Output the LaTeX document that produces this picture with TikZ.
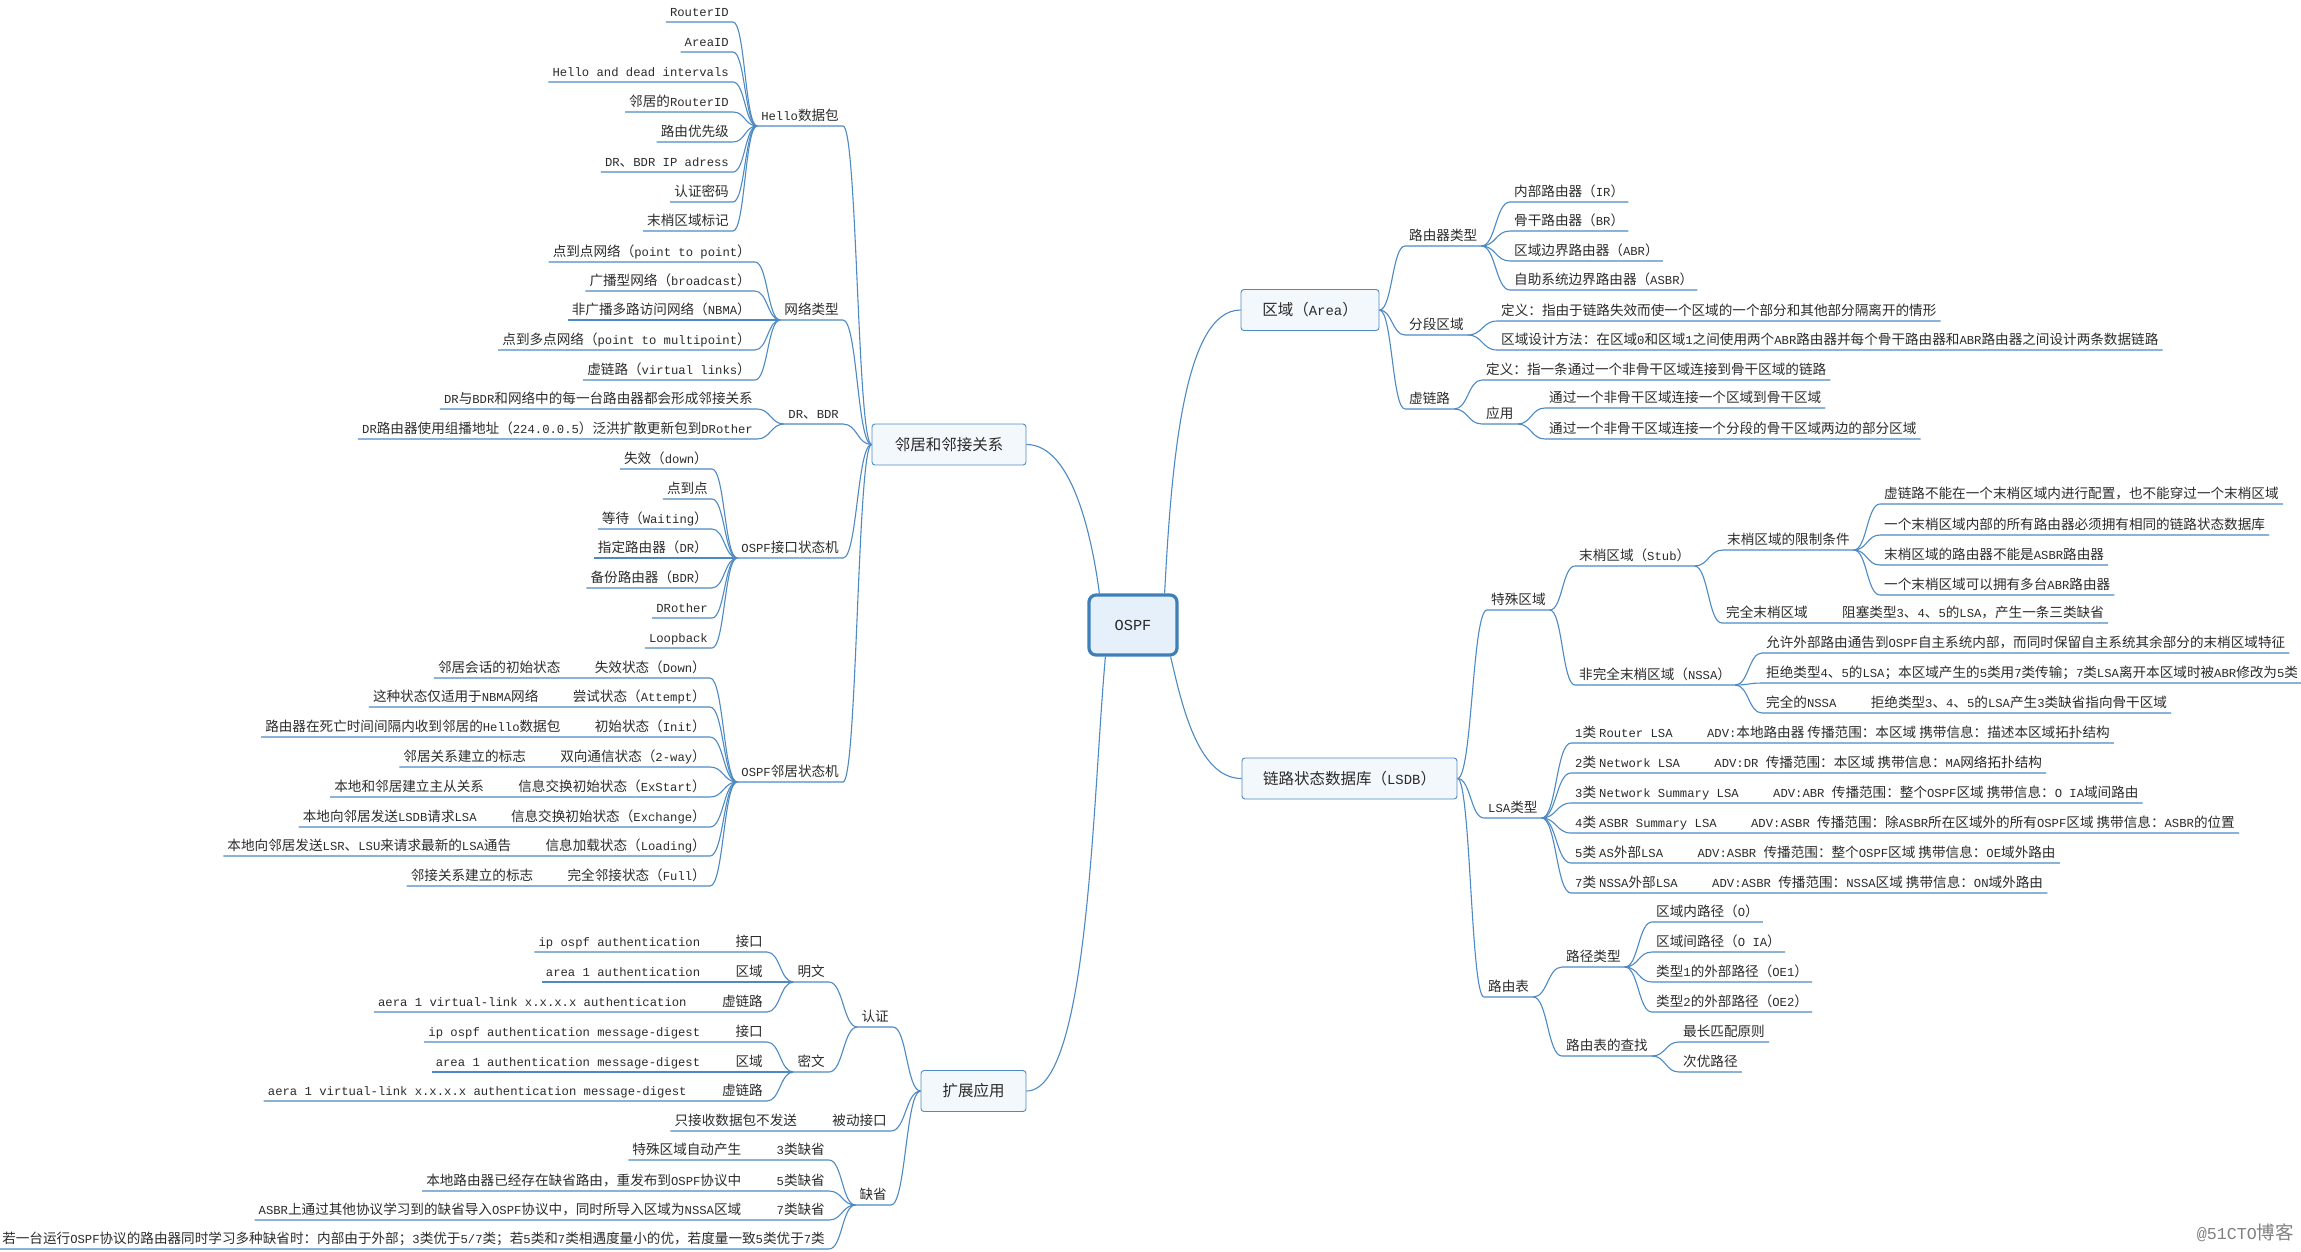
\documentclass[tikz,border=0pt]{standalone}
\usepackage{fontspec}
\usetikzlibrary{calc}

\newfontfamily\cjkfam{Noto Sans CJK SC}
\newfontfamily\latfam{Liberation Mono}[Scale=0.9]

% CJK runs in the CJK font, the rest in the mono font
\newcount\cjkcode
\chardef\cjkcls=7
\cjkcode="3000
\loop\ifnum\cjkcode<"3040 \XeTeXcharclass\cjkcode=\cjkcls \advance\cjkcode by 1 \repeat
\cjkcode="4E00
\loop\ifnum\cjkcode<"A000 \XeTeXcharclass\cjkcode=\cjkcls \advance\cjkcode by 1 \repeat
\cjkcode="FF00
\loop\ifnum\cjkcode<"FFF0 \XeTeXcharclass\cjkcode=\cjkcls \advance\cjkcode by 1 \repeat
\XeTeXinterchartoks 0 \cjkcls = {\cjkfam}
\XeTeXinterchartoks 4095 \cjkcls = {\cjkfam}
\XeTeXinterchartoks \cjkcls 0 = {\latfam}
\XeTeXinterchartoks 4095 0 = {\latfam}
\XeTeXinterchartokenstate=1

\definecolor{linkblue}{HTML}{4D8AC3}
\definecolor{rootblue}{HTML}{3F7FB7}
\definecolor{topicfill}{HTML}{F3F8FD}
\definecolor{rootfill}{HTML}{E6F0FA}
\definecolor{inkgray}{HTML}{2B2B2B}

\begin{document}
\begin{tikzpicture}
        [x=1pt, y=-1pt,
         every node/.style={text=inkgray, font=\fontsize{13.6}{16}\selectfont},
         lt/.style={anchor=south east, inner xsep=4pt, inner ysep=2.5pt, text height=11pt, text depth=3pt},
         rt/.style={lt, anchor=south west},
         topic/.style={draw=linkblue, fill=topicfill, rounded corners=3pt, line width=0.9pt, minimum height=41pt, font=\fontsize{15.5}{18}\selectfont},
         root/.style={draw=rootblue, fill=rootfill, rounded corners=7pt, line width=3.2pt, minimum width=88pt, minimum height=60pt, font=\fontsize{17}{20}\selectfont},
         stamp/.style={inner sep=0pt, text=gray, font=\fontsize{18.5}{21}\selectfont},
         link/.style={draw=linkblue, line width=1.1pt, to path={let \p1=(\tikztostart), \p2=(\tikztotarget) in .. controls ({(\x1+\x2)/2},\y1) and ({(\x1+\x2)/2},\y2) .. (\tikztotarget)}},
         trunk/.style={draw=linkblue, line width=1.1pt}]

        \useasboundingbox (0,0) rectangle (2301,1251);

        % centre and main topics
        \node[root] (ospf) at (1133, 625) {OSPF};
        \node[topic, minimum width=154pt] (nbr) at (949, 444.5) {邻居和邻接关系};
        \node[topic, minimum width=105pt] (ext) at (973.5, 1091) {扩展应用};
        \node[topic, minimum width=138pt] (area) at (1310, 310) {区域（Area）};
        \node[topic, minimum width=215pt] (lsdb) at (1349.5, 778.5) {链路状态数据库（LSDB）};

        \draw[trunk] ([xshift=12pt]ospf.north west) .. controls +(-8pt,60pt) and +(45pt,0pt) .. (nbr.east);
        \draw[trunk] ([xshift=-14pt]ospf.north east) .. controls +(7pt,135pt) and +(-56pt,0pt) .. (area.west);
        \draw[trunk] ([xshift=18pt]ospf.south west) .. controls +(-13pt,-145pt) and +(62pt,0pt) .. (ext.east);
        \draw[trunk] ([xshift=-8pt]ospf.south east) .. controls +(10pt,-42pt) and +(-45pt,0pt) .. (lsdb.west);

        % Hello
        \node[lt] (hello) at (843, 126) {Hello数据包};
        \node[lt] (h1) at (733, 22) {RouterID};
        \node[lt] (h2) at (733, 52) {AreaID};
        \node[lt] (h3) at (733, 82) {Hello and dead intervals};
        \node[lt] (h4) at (733, 112) {邻居的RouterID};
        \node[lt] (h5) at (733, 142) {路由优先级};
        \node[lt] (h6) at (733, 172) {DR、BDR IP adress};
        \node[lt] (h7) at (733, 202) {认证密码};
        \node[lt] (h8) at (733, 231) {末梢区域标记};

        % network types
        \node[lt] (net) at (843, 320) {网络类型};
        \node[lt] (n1) at (755, 262) {点到点网络（point to point）};
        \node[lt] (n2) at (755, 291) {广播型网络（broadcast）};
        \node[lt] (n3) at (755, 320) {非广播多路访问网络（NBMA）};
        \node[lt] (n4) at (755, 350) {点到多点网络（point to multipoint）};
        \node[lt] (n5) at (755, 380) {虚链路（virtual links）};

        \node[lt] (dr) at (843, 424) {DR、BDR};
        \node[lt] (d1) at (757, 409) {DR与BDR和网络中的每一台路由器都会形成邻接关系};
        \node[lt] (d2) at (757, 439) {DR路由器使用组播地址（224.0.0.5）泛洪扩散更新包到DRother};

        % interface states
        \node[lt] (ifsm) at (843, 558) {OSPF接口状态机};
        \node[lt] (i1) at (712, 469) {失效（down）};
        \node[lt] (i2) at (712, 499) {点到点};
        \node[lt] (i3) at (712, 529) {等待（Waiting）};
        \node[lt] (i4) at (712, 558) {指定路由器（DR）};
        \node[lt] (i5) at (712, 588) {备份路由器（BDR）};
        \node[lt] (i6) at (712, 618) {DRother};
        \node[lt] (i7) at (712, 648) {Loopback};

        % neighbour states
        \node[lt] (nsm) at (843, 782) {OSPF邻居状态机};
        \node[lt] (s1) at (710, 678) {失效状态（Down）};
        \node[lt] (s2) at (710, 707) {尝试状态（Attempt）};
        \node[lt] (s3) at (710, 737) {初始状态（Init）};
        \node[lt] (s4) at (710, 767) {双向通信状态（2-way）};
        \node[lt] (s5) at (710, 797) {信息交换初始状态（ExStart）};
        \node[lt] (s6) at (710, 827) {信息交换初始状态（Exchange）};
        \node[lt] (s7) at (710, 856) {信息加载状态（Loading）};
        \node[lt] (s8) at (710, 886) {完全邻接状态（Full）};
        \node[lt] (s1x) at ([xshift=-26pt]s1.south west) {邻居会话的初始状态};
        \node[lt] (s2x) at ([xshift=-26pt]s2.south west) {这种状态仅适用于NBMA网络};
        \node[lt] (s3x) at ([xshift=-26pt]s3.south west) {路由器在死亡时间间隔内收到邻居的Hello数据包};
        \node[lt] (s4x) at ([xshift=-26pt]s4.south west) {邻居关系建立的标志};
        \node[lt] (s5x) at ([xshift=-26pt]s5.south west) {本地和邻居建立主从关系};
        \node[lt] (s6x) at ([xshift=-26pt]s6.south west) {本地向邻居发送LSDB请求LSA};
        \node[lt] (s7x) at ([xshift=-26pt]s7.south west) {本地向邻居发送LSR、LSU来请求最新的LSA通告};
        \node[lt] (s8x) at ([xshift=-26pt]s8.south west) {邻接关系建立的标志};

        % extensions
        \node[lt] (auth) at (893, 1027) {认证};
        \node[lt] (mw) at (829, 982) {明文};
        \node[lt] (mw1) at (767, 952) {接口};
        \node[lt] (mw2) at (767, 982) {区域};
        \node[lt] (mw3) at (767, 1012) {虚链路};
        \node[lt] (mw1x) at ([xshift=-27pt]mw1.south west) {ip ospf authentication};
        \node[lt] (mw2x) at ([xshift=-27pt]mw2.south west) {area 1 authentication};
        \node[lt] (mw3x) at ([xshift=-27pt]mw3.south west) {aera 1 virtual-link x.x.x.x authentication};
        \node[lt] (cw) at (829, 1072) {密文};
        \node[lt] (cw1) at (767, 1042) {接口};
        \node[lt] (cw2) at (767, 1072) {区域};
        \node[lt] (cw3) at (767, 1101) {虚链路};
        \node[lt] (cw1x) at ([xshift=-27pt]cw1.south west) {ip ospf authentication message-digest};
        \node[lt] (cw2x) at ([xshift=-27pt]cw2.south west) {area 1 authentication message-digest};
        \node[lt] (cw3x) at ([xshift=-27pt]cw3.south west) {aera 1 virtual-link x.x.x.x authentication message-digest};
        \node[lt] (pas) at (891, 1131) {被动接口};
        \node[lt] (pasx) at ([xshift=-27pt]pas.south west) {只接收数据包不发送};
        \node[lt] (dft) at (891, 1205) {缺省};
        \node[lt] (f1) at (829, 1160) {3类缺省};
        \node[lt] (f2) at (829, 1191) {5类缺省};
        \node[lt] (f3) at (829, 1220) {7类缺省};
        \node[lt] (f1x) at ([xshift=-27pt]f1.south west) {特殊区域自动产生};
        \node[lt] (f2x) at ([xshift=-27pt]f2.south west) {本地路由器已经存在缺省路由，重发布到OSPF协议中};
        \node[lt] (f3x) at ([xshift=-27pt]f3.south west) {ASBR上通过其他协议学习到的缺省导入OSPF协议中，同时所导入区域为NSSA区域};
        \node[lt] (f4) at (829, 1249) {若一台运行OSPF协议的路由器同时学习多种缺省时：内部由于外部；3类优于5/7类；若5类和7类相遇度量小的优，若度量一致5类优于7类};

        % area
        \node[rt] (rtype) at (1405, 246) {路由器类型};
        \node[rt] (r1) at (1510, 202) {内部路由器（IR）};
        \node[rt] (r2) at (1510, 231) {骨干路由器（BR）};
        \node[rt] (r3) at (1510, 261) {区域边界路由器（ABR）};
        \node[rt] (r4) at (1510, 290) {自助系统边界路由器（ASBR）};
        \node[rt] (seg) at (1405, 335) {分段区域};
        \node[rt] (g1) at (1497, 321) {定义：指由于链路失效而使一个区域的一个部分和其他部分隔离开的情形};
        \node[rt] (g2) at (1497, 350) {区域设计方法：在区域0和区域1之间使用两个ABR路由器并每个骨干路由器和ABR路由器之间设计两条数据链路};
        \node[rt] (vl) at (1405, 409) {虚链路};
        \node[rt] (v1) at (1482, 380) {定义：指一条通过一个非骨干区域连接到骨干区域的链路};
        \node[rt] (app) at (1482, 424) {应用};
        \node[rt] (a1) at (1545, 408) {通过一个非骨干区域连接一个区域到骨干区域};
        \node[rt] (a2) at (1545, 439) {通过一个非骨干区域连接一个分段的骨干区域两边的部分区域};

        % special areas
        \node[rt] (spec) at (1487, 610) {特殊区域};
        \node[rt] (stub) at (1575, 566) {末梢区域（Stub）};
        \node[rt] (lim) at (1723, 550) {末梢区域的限制条件};
        \node[rt] (l1) at (1880, 504) {虚链路不能在一个末梢区域内进行配置，也不能穿过一个末梢区域};
        \node[rt] (l2) at (1880, 535) {一个末梢区域内部的所有路由器必须拥有相同的链路状态数据库};
        \node[rt] (l3) at (1880, 565) {末梢区域的路由器不能是ASBR路由器};
        \node[rt] (l4) at (1880, 595) {一个末梢区域可以拥有多台ABR路由器};
        \node[rt] (ts) at (1722, 623) {完全末梢区域};
        \node[rt] (tsx) at ([xshift=26pt]ts.south east) {阻塞类型3、4、5的LSA，产生一条三类缺省};
        \node[rt] (nssa) at (1575, 685) {非完全末梢区域（NSSA）};
        \node[rt] (ns1) at (1762, 653) {允许外部路由通告到OSPF自主系统内部，而同时保留自主系统其余部分的末梢区域特征};
        \node[rt] (ns2) at (1762, 683) {拒绝类型4、5的LSA；本区域产生的5类用7类传输；7类LSA离开本区域时被ABR修改为5类};
        \node[rt] (ns3) at (1762, 713) {完全的NSSA};
        \node[rt] (ns3x) at ([xshift=26pt]ns3.south east) {拒绝类型3、4、5的LSA产生3类缺省指向骨干区域};

        % LSA types
        \node[rt] (lsa) at (1484, 818) {LSA类型};
        \node[rt] (t1) at (1571, 743) {1类 Router LSA};
        \node[rt] (t2) at (1571, 773) {2类 Network LSA};
        \node[rt] (t3) at (1571, 803) {3类 Network Summary LSA};
        \node[rt] (t4) at (1571, 833) {4类 ASBR Summary LSA};
        \node[rt] (t5) at (1571, 863) {5类 AS外部LSA};
        \node[rt] (t7) at (1571, 893) {7类 NSSA外部LSA};
        \node[rt] (t1x) at ([xshift=26pt]t1.south east) {ADV:本地路由器 传播范围：本区域 携带信息：描述本区域拓扑结构};
        \node[rt] (t2x) at ([xshift=26pt]t2.south east) {ADV:DR 传播范围：本区域 携带信息：MA网络拓扑结构};
        \node[rt] (t3x) at ([xshift=26pt]t3.south east) {ADV:ABR 传播范围：整个OSPF区域 携带信息：O IA域间路由};
        \node[rt] (t4x) at ([xshift=26pt]t4.south east) {ADV:ASBR 传播范围：除ASBR所在区域外的所有OSPF区域 携带信息：ASBR的位置};
        \node[rt] (t5x) at ([xshift=26pt]t5.south east) {ADV:ASBR 传播范围：整个OSPF区域 携带信息：OE域外路由};
        \node[rt] (t7x) at ([xshift=26pt]t7.south east) {ADV:ASBR 传播范围：NSSA区域 携带信息：ON域外路由};

        % routing table
        \node[rt] (rtab) at (1484, 997) {路由表};
        \node[rt] (ptype) at (1562, 967) {路径类型};
        \node[rt] (p1) at (1652, 922) {区域内路径（O）};
        \node[rt] (p2) at (1652, 952) {区域间路径（O IA）};
        \node[rt] (p3) at (1652, 982) {类型1的外部路径（OE1）};
        \node[rt] (p4) at (1652, 1012) {类型2的外部路径（OE2）};
        \node[rt] (look) at (1562, 1056) {路由表的查找};
        \node[rt] (k1) at (1679, 1042) {最长匹配原则};
        \node[rt] (k2) at (1679, 1072) {次优路径};

        \node[stamp, anchor=east] (mark) at (2294, 1233) {@51CTO博客};

        % left branches
        \draw[link] (nbr.west) to (hello.south east) -- (hello.south west);
        \draw[link] (nbr.west) to (net.south east) -- (net.south west);
        \draw[link] (nbr.west) to (dr.south east) -- (dr.south west);
        \draw[link] (nbr.west) to (ifsm.south east) -- (ifsm.south west);
        \draw[link] (nbr.west) to (nsm.south east) -- (nsm.south west);

        \draw[link] (hello.south west) to (h1.south east) -- (h1.south west);
        \draw[link] (hello.south west) to (h2.south east) -- (h2.south west);
        \draw[link] (hello.south west) to (h3.south east) -- (h3.south west);
        \draw[link] (hello.south west) to (h4.south east) -- (h4.south west);
        \draw[link] (hello.south west) to (h5.south east) -- (h5.south west);
        \draw[link] (hello.south west) to (h6.south east) -- (h6.south west);
        \draw[link] (hello.south west) to (h7.south east) -- (h7.south west);
        \draw[link] (hello.south west) to (h8.south east) -- (h8.south west);

        \draw[link] (net.south west) to (n1.south east) -- (n1.south west);
        \draw[link] (net.south west) to (n2.south east) -- (n2.south west);
        \draw[link] (net.south west) to (n3.south east) -- (n3.south west);
        \draw[link] (net.south west) to (n4.south east) -- (n4.south west);
        \draw[link] (net.south west) to (n5.south east) -- (n5.south west);

        \draw[link] (dr.south west) to (d1.south east) -- (d1.south west);
        \draw[link] (dr.south west) to (d2.south east) -- (d2.south west);

        \draw[link] (ifsm.south west) to (i1.south east) -- (i1.south west);
        \draw[link] (ifsm.south west) to (i2.south east) -- (i2.south west);
        \draw[link] (ifsm.south west) to (i3.south east) -- (i3.south west);
        \draw[link] (ifsm.south west) to (i4.south east) -- (i4.south west);
        \draw[link] (ifsm.south west) to (i5.south east) -- (i5.south west);
        \draw[link] (ifsm.south west) to (i6.south east) -- (i6.south west);
        \draw[link] (ifsm.south west) to (i7.south east) -- (i7.south west);

        \draw[link] (nsm.south west) to (s1.south east) -- (s1.south west) -- (s1x.south east) -- (s1x.south west);
        \draw[link] (nsm.south west) to (s2.south east) -- (s2.south west) -- (s2x.south east) -- (s2x.south west);
        \draw[link] (nsm.south west) to (s3.south east) -- (s3.south west) -- (s3x.south east) -- (s3x.south west);
        \draw[link] (nsm.south west) to (s4.south east) -- (s4.south west) -- (s4x.south east) -- (s4x.south west);
        \draw[link] (nsm.south west) to (s5.south east) -- (s5.south west) -- (s5x.south east) -- (s5x.south west);
        \draw[link] (nsm.south west) to (s6.south east) -- (s6.south west) -- (s6x.south east) -- (s6x.south west);
        \draw[link] (nsm.south west) to (s7.south east) -- (s7.south west) -- (s7x.south east) -- (s7x.south west);
        \draw[link] (nsm.south west) to (s8.south east) -- (s8.south west) -- (s8x.south east) -- (s8x.south west);

        \draw[link] (ext.west) to (auth.south east) -- (auth.south west);
        \draw[link] (ext.west) to (pas.south east) -- (pas.south west) -- (pasx.south east) -- (pasx.south west);
        \draw[link] (ext.west) to (dft.south east) -- (dft.south west);
        \draw[link] (auth.south west) to (mw.south east) -- (mw.south west);
        \draw[link] (auth.south west) to (cw.south east) -- (cw.south west);
        \draw[link] (mw.south west) to (mw1.south east) -- (mw1.south west) -- (mw1x.south east) -- (mw1x.south west);
        \draw[link] (mw.south west) to (mw2.south east) -- (mw2.south west) -- (mw2x.south east) -- (mw2x.south west);
        \draw[link] (mw.south west) to (mw3.south east) -- (mw3.south west) -- (mw3x.south east) -- (mw3x.south west);
        \draw[link] (cw.south west) to (cw1.south east) -- (cw1.south west) -- (cw1x.south east) -- (cw1x.south west);
        \draw[link] (cw.south west) to (cw2.south east) -- (cw2.south west) -- (cw2x.south east) -- (cw2x.south west);
        \draw[link] (cw.south west) to (cw3.south east) -- (cw3.south west) -- (cw3x.south east) -- (cw3x.south west);
        \draw[link] (dft.south west) to (f1.south east) -- (f1.south west) -- (f1x.south east) -- (f1x.south west);
        \draw[link] (dft.south west) to (f2.south east) -- (f2.south west) -- (f2x.south east) -- (f2x.south west);
        \draw[link] (dft.south west) to (f3.south east) -- (f3.south west) -- (f3x.south east) -- (f3x.south west);
        \draw[link] (dft.south west) to (f4.south east) -- (f4.south west);

        % right branches
        \draw[link] (area.east) to (rtype.south west) -- (rtype.south east);
        \draw[link] (area.east) to (seg.south west) -- (seg.south east);
        \draw[link] (area.east) to (vl.south west) -- (vl.south east);
        \draw[link] (rtype.south east) to (r1.south west) -- (r1.south east);
        \draw[link] (rtype.south east) to (r2.south west) -- (r2.south east);
        \draw[link] (rtype.south east) to (r3.south west) -- (r3.south east);
        \draw[link] (rtype.south east) to (r4.south west) -- (r4.south east);
        \draw[link] (seg.south east) to (g1.south west) -- (g1.south east);
        \draw[link] (seg.south east) to (g2.south west) -- (g2.south east);
        \draw[link] (vl.south east) to (v1.south west) -- (v1.south east);
        \draw[link] (vl.south east) to (app.south west) -- (app.south east);
        \draw[link] (app.south east) to (a1.south west) -- (a1.south east);
        \draw[link] (app.south east) to (a2.south west) -- (a2.south east);

        \draw[link] (lsdb.east) to (spec.south west) -- (spec.south east);
        \draw[link] (lsdb.east) to (lsa.south west) -- (lsa.south east);
        \draw[link] (lsdb.east) to (rtab.south west) -- (rtab.south east);

        \draw[link] (spec.south east) to (stub.south west) -- (stub.south east);
        \draw[link] (spec.south east) to (nssa.south west) -- (nssa.south east);
        \draw[link] (stub.south east) to (lim.south west) -- (lim.south east);
        \draw[link] (stub.south east) to (ts.south west) -- (ts.south east) -- (tsx.south west) -- (tsx.south east);
        \draw[link] (lim.south east) to (l1.south west) -- (l1.south east);
        \draw[link] (lim.south east) to (l2.south west) -- (l2.south east);
        \draw[link] (lim.south east) to (l3.south west) -- (l3.south east);
        \draw[link] (lim.south east) to (l4.south west) -- (l4.south east);
        \draw[link] (nssa.south east) to (ns1.south west) -- (ns1.south east);
        \draw[link] (nssa.south east) to (ns2.south west) -- (ns2.south east);
        \draw[link] (nssa.south east) to (ns3.south west) -- (ns3.south east) -- (ns3x.south west) -- (ns3x.south east);

        \draw[link] (lsa.south east) to (t1.south west) -- (t1.south east) -- (t1x.south west) -- (t1x.south east);
        \draw[link] (lsa.south east) to (t2.south west) -- (t2.south east) -- (t2x.south west) -- (t2x.south east);
        \draw[link] (lsa.south east) to (t3.south west) -- (t3.south east) -- (t3x.south west) -- (t3x.south east);
        \draw[link] (lsa.south east) to (t4.south west) -- (t4.south east) -- (t4x.south west) -- (t4x.south east);
        \draw[link] (lsa.south east) to (t5.south west) -- (t5.south east) -- (t5x.south west) -- (t5x.south east);
        \draw[link] (lsa.south east) to (t7.south west) -- (t7.south east) -- (t7x.south west) -- (t7x.south east);

        \draw[link] (rtab.south east) to (ptype.south west) -- (ptype.south east);
        \draw[link] (rtab.south east) to (look.south west) -- (look.south east);
        \draw[link] (ptype.south east) to (p1.south west) -- (p1.south east);
        \draw[link] (ptype.south east) to (p2.south west) -- (p2.south east);
        \draw[link] (ptype.south east) to (p3.south west) -- (p3.south east);
        \draw[link] (ptype.south east) to (p4.south west) -- (p4.south east);
        \draw[link] (look.south east) to (k1.south west) -- (k1.south east);
        \draw[link] (look.south east) to (k2.south west) -- (k2.south east);

      \end{tikzpicture}
\end{document}
